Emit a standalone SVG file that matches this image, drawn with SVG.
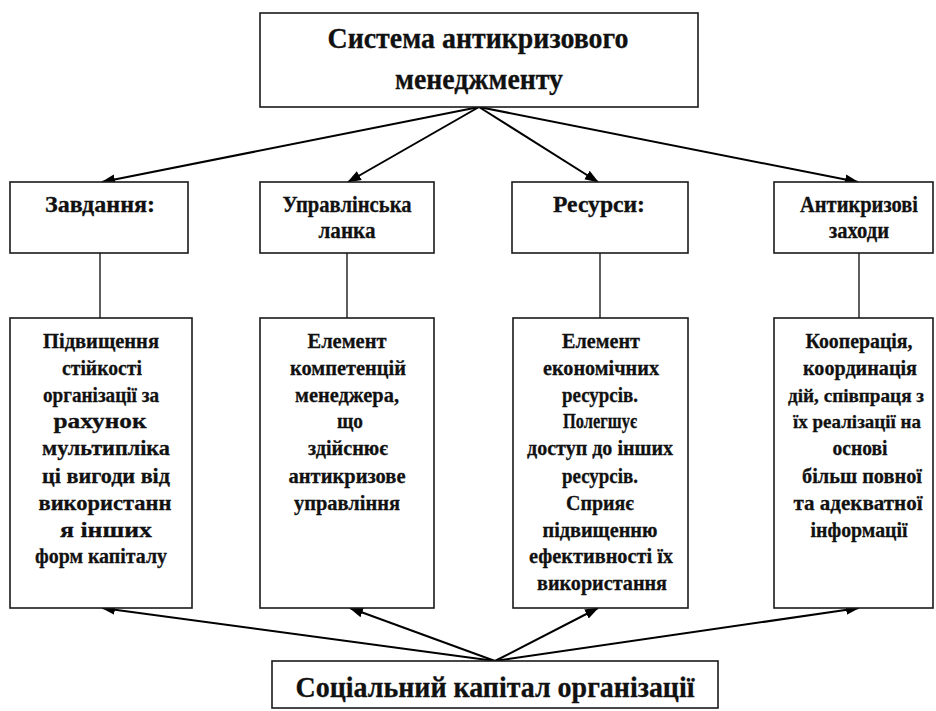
<svg xmlns="http://www.w3.org/2000/svg" width="936" height="711" viewBox="0 0 936 711">
<style>
.box{fill:#fff;stroke:#1a1a1a;stroke-width:1.6}
text{font-family:'Liberation Serif','Times New Roman',serif;font-weight:700;fill:#111;stroke:#111;stroke-width:0.3;text-anchor:middle}
.h{font-size:29px}
.m{font-size:23px}
.s{font-size:22px}
.n{font-size:19px}
.c{stroke:#000;stroke-width:2;fill:none}
.v{stroke:#1a1a1a;stroke-width:1.4;fill:none}
</style>
<defs>
<marker id="ah" markerUnits="userSpaceOnUse" markerWidth="14" markerHeight="12" refX="13" refY="5" orient="auto" viewBox="0 0 14 10">
<path d="M0,0 L14,5 L0,10 Z" fill="#000"/>
</marker>
</defs>
<rect width="936" height="711" fill="#fff"/>

<g id="connectors">
<line class="c" x1="479" y1="107" x2="102" y2="182" marker-end="url(#ah)"/>
<line class="c" x1="479" y1="107" x2="348" y2="182" marker-end="url(#ah)"/>
<line class="c" x1="479" y1="107" x2="598" y2="182" marker-end="url(#ah)"/>
<line class="c" x1="479" y1="107" x2="858" y2="182" marker-end="url(#ah)"/>
<line class="v" x1="100" y1="253" x2="100" y2="318"/>
<line class="v" x1="347" y1="253" x2="347" y2="318"/>
<line class="v" x1="600" y1="253" x2="600" y2="318"/>
<line class="v" x1="859" y1="253" x2="859" y2="318"/>
<line class="c" x1="495" y1="661" x2="102" y2="608" marker-end="url(#ah)"/>
<line class="c" x1="495" y1="661" x2="350" y2="608" marker-end="url(#ah)"/>
<line class="c" x1="495" y1="661" x2="598" y2="608" marker-end="url(#ah)"/>
<line class="c" x1="495" y1="661" x2="859" y2="608" marker-end="url(#ah)"/>
</g>

<g id="system">
<rect class="box" x="260" y="13" width="438" height="94"/>
<text class="h" x="478" y="48" textLength="301" lengthAdjust="spacingAndGlyphs">Система антикризового</text>
<text class="h" x="479" y="89" textLength="168" lengthAdjust="spacingAndGlyphs">менеджменту</text>
</g>

<g id="tasks">
<rect class="box" x="10" y="182" width="178" height="71"/>
<text class="m" x="100" y="212" textLength="110" lengthAdjust="spacingAndGlyphs">Завдання:</text>
</g>

<g id="management">
<rect class="box" x="260" y="182" width="174" height="71"/>
<text class="m" x="347" y="212" textLength="129" lengthAdjust="spacingAndGlyphs">Управлінська</text>
<text class="m" x="347" y="238" textLength="57" lengthAdjust="spacingAndGlyphs">ланка</text>
</g>

<g id="resources">
<rect class="box" x="512" y="182" width="176" height="71"/>
<text class="m" x="599" y="212" textLength="92" lengthAdjust="spacingAndGlyphs">Ресурси:</text>
</g>

<g id="measures">
<rect class="box" x="774" y="182" width="159" height="71"/>
<text class="m" x="859" y="212" textLength="118" lengthAdjust="spacingAndGlyphs">Антикризові</text>
<text class="m" x="859" y="238" textLength="60" lengthAdjust="spacingAndGlyphs">заходи</text>
</g>

<g id="tasks-detail">
<rect class="box" x="10" y="318" width="182" height="290"/>
<text class="s" x="101" y="348" textLength="116" lengthAdjust="spacingAndGlyphs">Підвищення</text>
<text class="s" x="102" y="375" textLength="80" lengthAdjust="spacingAndGlyphs">стійкості</text>
<text class="s" x="101" y="402" textLength="116" lengthAdjust="spacingAndGlyphs">організації за</text>
<text class="s" x="100" y="428" textLength="93" lengthAdjust="spacingAndGlyphs">рахунок</text>
<text class="s" x="106" y="455" textLength="128" lengthAdjust="spacingAndGlyphs">мультипліка</text>
<text class="s" x="106" y="483" textLength="128" lengthAdjust="spacingAndGlyphs">ці вигоди від</text>
<text class="s" x="105" y="510" textLength="133" lengthAdjust="spacingAndGlyphs">використанн</text>
<text class="s" x="106" y="537" textLength="92" lengthAdjust="spacingAndGlyphs">я інших</text>
<text class="s" x="101" y="563" textLength="132" lengthAdjust="spacingAndGlyphs">форм капіталу</text>
</g>

<g id="management-detail">
<rect class="box" x="260" y="318" width="174" height="290"/>
<text class="s" x="347" y="348" textLength="79" lengthAdjust="spacingAndGlyphs">Елемент</text>
<text class="s" x="348" y="375" textLength="116" lengthAdjust="spacingAndGlyphs">компетенцій</text>
<text class="s" x="347" y="402" textLength="104" lengthAdjust="spacingAndGlyphs">менеджера,</text>
<text class="s" x="350" y="428" textLength="26" lengthAdjust="spacingAndGlyphs">що</text>
<text class="s" x="348" y="455" textLength="80" lengthAdjust="spacingAndGlyphs">здійснює</text>
<text class="s" x="347" y="483" textLength="117" lengthAdjust="spacingAndGlyphs">антикризове</text>
<text class="s" x="347" y="510" textLength="106" lengthAdjust="spacingAndGlyphs">управління</text>
</g>

<g id="resources-detail">
<rect class="box" x="513" y="318" width="175" height="290"/>
<text class="s" x="601" y="348" textLength="78" lengthAdjust="spacingAndGlyphs">Елемент</text>
<text class="s" x="601" y="375" textLength="116" lengthAdjust="spacingAndGlyphs">економічних</text>
<text class="s" x="600" y="402" textLength="76" lengthAdjust="spacingAndGlyphs">ресурсів.</text>
<text class="s" x="600" y="428" textLength="74" lengthAdjust="spacingAndGlyphs">Полегшує</text>
<text class="s" x="600" y="455" textLength="146" lengthAdjust="spacingAndGlyphs">доступ до інших</text>
<text class="s" x="600" y="483" textLength="76" lengthAdjust="spacingAndGlyphs">ресурсів.</text>
<text class="s" x="600" y="510" textLength="68" lengthAdjust="spacingAndGlyphs">Сприяє</text>
<text class="s" x="600" y="537" textLength="115" lengthAdjust="spacingAndGlyphs">підвищенню</text>
<text class="s" x="601" y="563" textLength="144" lengthAdjust="spacingAndGlyphs">ефективності їх</text>
<text class="s" x="602" y="590" textLength="130" lengthAdjust="spacingAndGlyphs">використання</text>
</g>

<g id="measures-detail">
<rect class="box" x="774" y="318" width="159" height="290"/>
<text class="s" x="859" y="348" textLength="107" lengthAdjust="spacingAndGlyphs">Кооперація,</text>
<text class="s" x="860" y="375" textLength="114" lengthAdjust="spacingAndGlyphs">координація</text>
<text class="n" x="856" y="402" textLength="136" lengthAdjust="spacingAndGlyphs">дій, співпраця з</text>
<text class="n" x="857" y="428" textLength="128" lengthAdjust="spacingAndGlyphs">їх реалізації на</text>
<text class="s" x="860" y="455" textLength="55" lengthAdjust="spacingAndGlyphs">основі</text>
<text class="s" x="862" y="483" textLength="120" lengthAdjust="spacingAndGlyphs">більш повної</text>
<text class="s" x="858" y="510" textLength="129" lengthAdjust="spacingAndGlyphs">та адекватної</text>
<text class="s" x="859" y="537" textLength="97" lengthAdjust="spacingAndGlyphs">інформації</text>
</g>

<g id="social-capital">
<rect class="box" x="272" y="661" width="446" height="47"/>
<text class="h" x="495" y="697" textLength="399" lengthAdjust="spacingAndGlyphs">Соціальний капітал організації</text>
</g>
</svg>
